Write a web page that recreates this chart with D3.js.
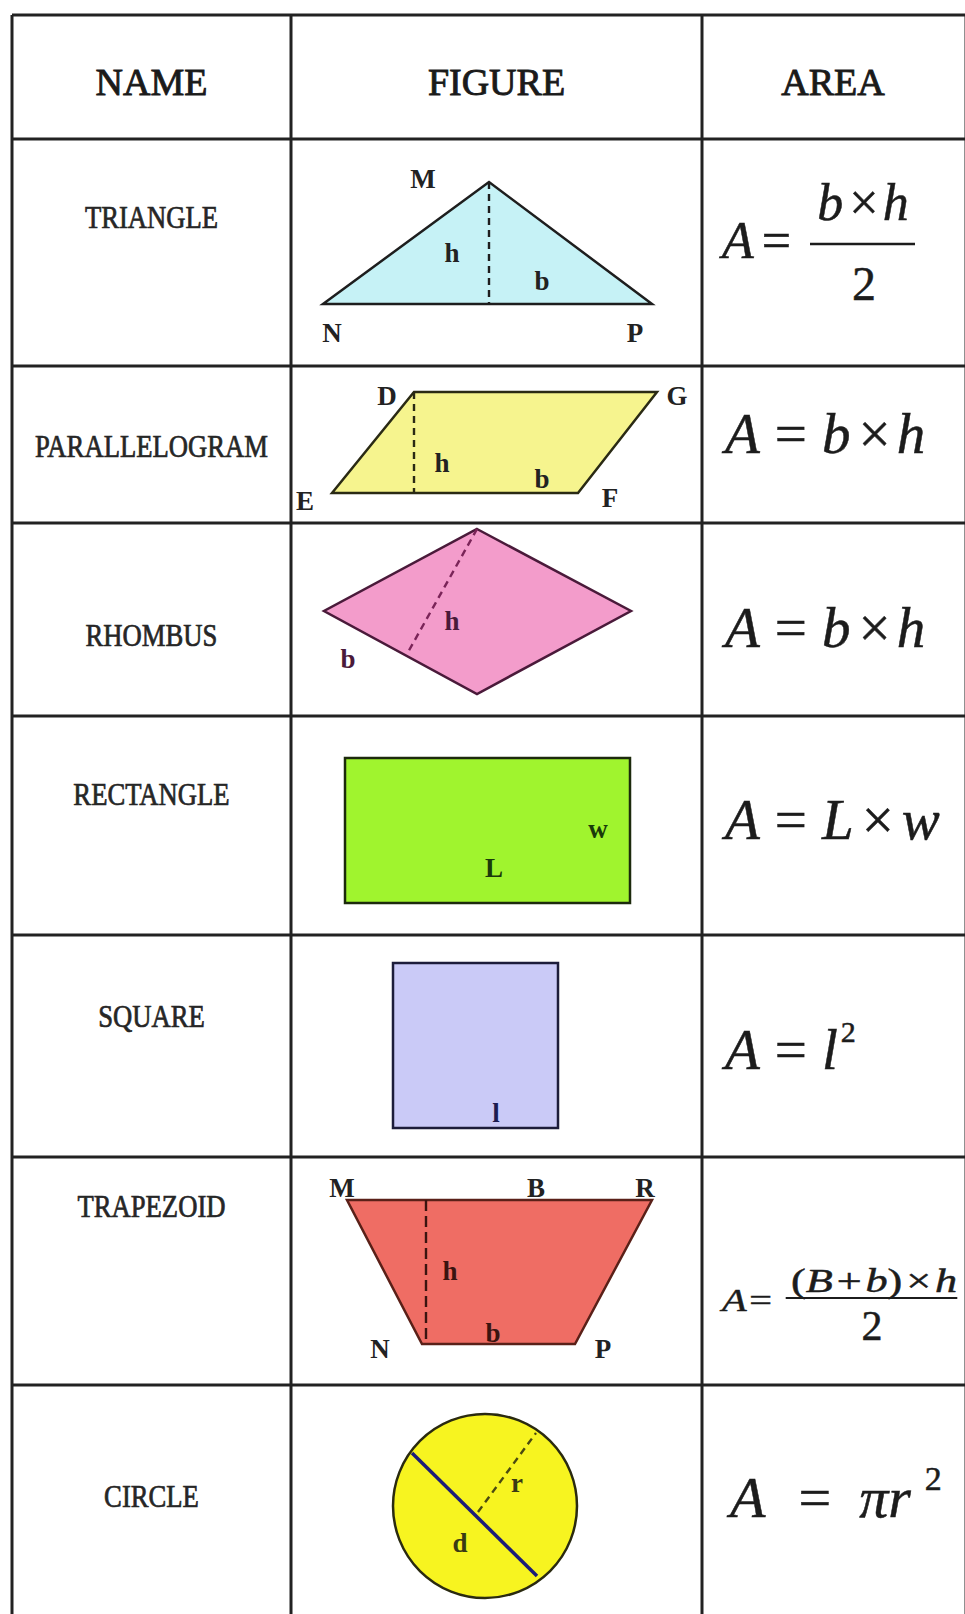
<!DOCTYPE html>
<html>
<head>
<meta charset="utf-8">
<script src="https://cdn.jsdelivr.net/npm/d3@7"></script>
<style>
  body { margin: 0; background: #fff; }
  svg { display: block; }
  text { font-family: "Liberation Serif", "Times New Roman", serif; }
</style>
</head>
<body>
<div id="chart"></div>
<script>
var width = 965, height = 1614;

// table content
var headers = ["NAME", "FIGURE", "AREA"];
var shapeNames = ["TRIANGLE", "PARALLELOGRAM", "RHOMBUS", "RECTANGLE", "SQUARE", "TRAPEZOID", "CIRCLE"];

// figure outlines, in the figure cell's own units (cell is 411 wide)
var triangle = [[32, 165], [198, 43], [361, 165]];
var parallelogram = [[41, 127], [123, 26], [366, 26], [287, 127]];
var rhombus = [[186, 6], [340, 88], [186, 171], [33, 88]];
var rectangle = [[54, 42], [339, 42], [339, 187], [54, 187]];
var square = [[102, 28], [267, 28], [267, 193], [102, 193]];
var trapezoid = [[56, 43], [361, 43], [284, 187], [131, 187]];
var circle = [194, 121, 92];
var outlines = [triangle, parallelogram, rhombus, rectangle, square, trapezoid, null];

// dashed heights / radius and the circle diameter
var dashes = [
  [[198, 43], [198, 165]],
  [[123, 26], [123, 127]],
  [[186, 6], [116, 131]],
  null,
  null,
  [[135, 43], [135, 187]],
  [[187, 127], [245, 48]]
];
var diameter = [[121, 68], [246, 191]];

// letters on each figure: [letter, x, y]
var figLabels = [
  [["M", 132, 49], ["N", 41, 203], ["P", 344, 203], ["h", 161, 123], ["b", 251, 151]],
  [["D", 96, 39], ["G", 386, 39], ["E", 14, 144], ["F", 319, 141], ["h", 151, 106], ["b", 251, 122]],
  [["h", 161, 107], ["b", 57, 145]],
  [["w", 307, 122], ["L", 203, 161]],
  [["l", 205, 187]],
  [["M", 51, 40], ["B", 245, 40], ["R", 354, 40], ["h", 159, 123], ["b", 202, 185], ["N", 89, 201], ["P", 312, 201]],
  [["r", 226, 107], ["d", 169, 167]]
];

// area formulas (i = italic, sup = superscript)
var fTriangleNum = [["b", "i"], ["×", ""], ["h", "i"]];
var fBH = [["A", "i"], ["=", ""], ["b", "i"], ["×", ""], ["h", "i"]];
var fLW = [["A", "i"], ["=", ""], ["L", "i"], ["×", ""], ["w", "i"]];
var fSquare = [["A", "i"], ["=", ""], ["l", "i"], ["2", "sup"]];
var fTrapNum = [["(", ""], ["B", "i"], ["+", ""], ["b", "i"], [")", ""], ["×", ""], ["h", "i"]];
var fCircle = [["A", "i"], ["=", ""], ["π", "i"], ["r", "i"], ["2", "sup"]];

// colours
var fills = ["#c6f2f6", "#f6f48e", "#f39ccb", "#a0f42e", "#cacaf7", "#ef6d64", "#f7f420"];
var strokes = ["#1e1e1e", "#2a2a14", "#4a1a3a", "#1c2a0c", "#1c1c3a", "#5a2018", "#2a2a10"];
var dashColors = ["#1e1e1e", "#2a2a14", "#7a2458", null, null, "#3a1410", "#4a4a10"];
var labelColors = ["#222", "#222", "#4a1a3a", "#1a3a0a", "#1c1c50", "#3a1410", "#3a3a14"];

// table layout
var colEdges = [12, 291, 702, 966];
var rowEdges = [15, 139, 366, 523, 716, 935, 1157, 1385];
var nameBase = [89, 91, 123, 89, 92, 60, 122];

var svg = d3.select("#chart")
  .append("svg")
  .attr("width", width)
  .attr("height", height);

svg.append("rect").attr("width", width).attr("height", height).attr("fill", "#fff");

var figW = colEdges[2] - colEdges[1];

// one group per row, figures drawn in cell units through scales
shapeNames.forEach(function (name, i) {
  var top = rowEdges[i + 1];
  var bottom = rowEdges[i + 2] || height;
  var fx = d3.scaleLinear().domain([0, figW]).range([colEdges[1], colEdges[2]]);
  var fy = d3.scaleLinear().domain([0, bottom - top]).range([top, bottom]);
  var line = d3.line().x(function (d) { return fx(d[0]) }).y(function (d) { return fy(d[1]) });
  var g = svg.append("g").attr("class", "row");

  // name
  g.append("text")
    .attr("transform", "translate(" + ((colEdges[0] + colEdges[1]) / 2) + "," + (top + nameBase[i]) + ") scale(0.86,1)")
    .attr("text-anchor", "middle")
    .style("font-size", "31px")
    .attr("fill", "#262626")
    .attr("stroke", "#262626")
    .attr("stroke-width", 0.7)
    .text(name);

  // figure
  if (outlines[i]) {
    g.append("path")
      .attr("d", line(outlines[i]) + "Z")
      .attr("fill", fills[i])
      .attr("stroke", strokes[i])
      .attr("stroke-width", 2.5)
      .attr("stroke-linejoin", "miter");
  } else {
    g.append("circle")
      .attr("cx", fx(circle[0]))
      .attr("cy", fy(circle[1]))
      .attr("r", fx(circle[2]) - fx(0))
      .attr("fill", fills[i])
      .attr("stroke", strokes[i])
      .attr("stroke-width", 2.5);
    g.append("path")
      .attr("d", line(diameter))
      .attr("stroke", "#1c1c78")
      .attr("stroke-width", 3.5)
      .attr("fill", "none");
  }
  if (dashes[i]) {
    g.append("path")
      .attr("d", line(dashes[i]))
      .attr("stroke", dashColors[i])
      .attr("stroke-width", 2.4)
      .attr("stroke-dasharray", i == 5 ? "11,5" : "7,5")
      .attr("fill", "none");
  }
  g.selectAll("text.lbl")
    .data(figLabels[i])
    .enter()
    .append("text")
    .attr("class", "lbl")
    .attr("x", function (d) { return fx(d[1]) })
    .attr("y", function (d) { return fy(d[2]) })
    .attr("text-anchor", "middle")
    .style("font-size", "27px")
    .style("font-weight", "bold")
    .attr("fill", function (d) { return "MNPDGEFBR".indexOf(d[0]) >= 0 ? "#222" : labelColors[i] })
    .text(function (d) { return d[0] });
});

// formula helper: tokens laid out left to right with given gaps
function formula(parent, tokens, gaps, x, y, size, supSize, anchor) {
  var t = parent.append("text")
    .attr("x", x)
    .attr("y", y)
    .attr("text-anchor", anchor || "start")
    .style("font-size", size + "px")
    .attr("fill", "#1c1c1c")
    .attr("stroke", "#1c1c1c")
    .attr("stroke-width", 0.5);
  tokens.forEach(function (tk, i) {
    var s = t.append("tspan").text(tk[0]).attr("dx", gaps[i] || 0);
    if (tk[1] == "i") s.style("font-style", "italic");
    if (tk[1] == "sup") s.attr("dy", -size * 0.47).style("font-size", supSize + "px");
  });
  return t;
}

var area = svg.append("g");

// triangle: A = (b x h) / 2
formula(area, [["A", "i"], ["=", ""]], [0, 8], 722, 258, 52);
formula(area, fTriangleNum, [0, 6, 4], 863, 220, 52, 0, "middle");
area.append("line").attr("x1", 810).attr("x2", 915).attr("y1", 244).attr("y2", 244)
  .attr("stroke", "#1c1c1c").attr("stroke-width", 2.5);
formula(area, [["2", ""]], [0], 864, 300, 48, 0, "middle");

// parallelogram, rhombus, rectangle, square
formula(area, fBH, [0, 15, 15, 8, 6], 725, 453, 57);
formula(area, fBH, [0, 15, 15, 8, 6], 725, 647, 57);
formula(area, fLW, [0, 15, 15, 8, 8], 725, 839, 57);
formula(area, fSquare, [0, 15, 15, 3], 725, 1069, 57, 30);

// trapezoid: stretched sideways like the picture
var trap = area.append("g").attr("transform", "translate(722,0) scale(1.3,1)");
formula(trap, [["A", "i"], ["=", ""]], [0, 2], 0, 1311, 31);
formula(trap, fTrapNum, [0, 0, 3, 3, 0, 3, 3], 117, 1292, 34, 0, "middle");
trap.append("line").attr("x1", 49).attr("x2", 181).attr("y1", 1298).attr("y2", 1298)
  .attr("stroke", "#1c1c1c").attr("stroke-width", 2);
formula(area, [["2", ""]], [0], 872, 1340, 42, 0, "middle");

// circle
formula(area, fCircle, [0, 33, 28, 0, 14], 730, 1517, 58, 34);

// table grid
svg.selectAll("line.hrule")
  .data(rowEdges)
  .enter()
  .append("line")
  .attr("class", "hrule")
  .attr("x1", colEdges[0]).attr("x2", width)
  .attr("y1", function (d) { return d }).attr("y2", function (d) { return d })
  .attr("stroke", "#222")
  .attr("stroke-width", 3);

svg.selectAll("line.vrule")
  .data(colEdges)
  .enter()
  .append("line")
  .attr("class", "vrule")
  .attr("x1", function (d) { return d }).attr("x2", function (d) { return d })
  .attr("y1", rowEdges[0]).attr("y2", height)
  .attr("stroke", "#222")
  .attr("stroke-width", 3);

// headers
svg.selectAll("text.head")
  .data(headers)
  .enter()
  .append("text")
  .attr("class", "head")
  .attr("x", function (d, i) { return i < 2 ? (colEdges[i] + colEdges[i + 1]) / 2 : 833 })
  .attr("y", 95)
  .attr("text-anchor", "middle")
  .style("font-size", "38px")
  .attr("fill", "#1a1a1a")
  .attr("stroke", "#1a1a1a")
  .attr("stroke-width", 0.9)
  .text(function (d) { return d });
</script>
</body>
</html>
